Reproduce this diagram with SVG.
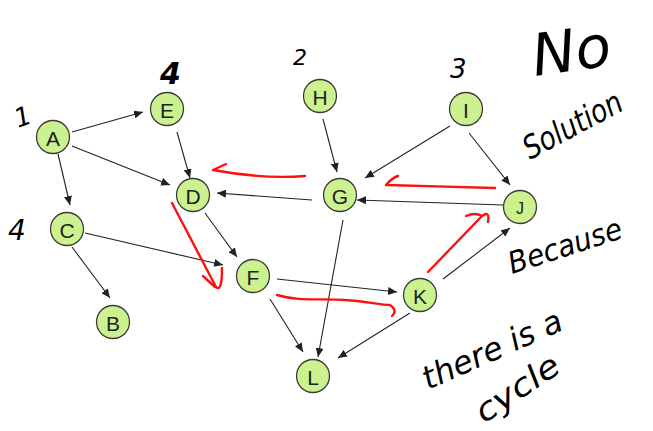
<svg xmlns="http://www.w3.org/2000/svg" width="653" height="431" viewBox="0 0 653 431">
  <style>
    .node circle { fill: #ccf28f; stroke: #3a3a3a; stroke-width: 1.3; }
    .node text { font-family: "Liberation Sans", Arial, sans-serif; font-size: 21px; fill: #222; text-anchor: middle; dominant-baseline: central; }
    .edge { stroke: #222; stroke-width: 1.1; fill: none; marker-end: url(#arrow); }
    .red { stroke: #ff1010; stroke-width: 2.4; fill: none; stroke-linecap: round; stroke-linejoin: round; }
    .hand { font-family: "DejaVu Sans", "Liberation Sans", sans-serif; fill: #000; font-style: italic; }
  </style>
  <defs>
    <marker id="arrow" markerUnits="userSpaceOnUse" markerWidth="10" markerHeight="8" refX="9" refY="4" orient="auto">
      <path d="M0,0 L9,4 L0,8 Z" fill="#222"/>
    </marker>
  </defs>
  <rect width="653" height="431" fill="#fff"/>

  <!-- connectors -->
  <g id="connectors">
    <line class="edge" x1="72" y1="132" x2="143" y2="112"/>
    <line class="edge" x1="72" y1="146" x2="170" y2="185"/>
    <line class="edge" x1="58" y1="154" x2="70" y2="205"/>
    <line class="edge" x1="177" y1="132" x2="190" y2="178"/>
    <line class="edge" x1="323" y1="119" x2="337" y2="172"/>
    <line class="edge" x1="450" y1="126" x2="365" y2="178"/>
    <line class="edge" x1="312" y1="200" x2="217" y2="193"/>
    <line class="edge" x1="503" y1="205" x2="357" y2="200"/>
    <line class="edge" x1="469" y1="133" x2="510" y2="185"/>
    <line class="edge" x1="443" y1="279" x2="510" y2="228"/>
    <line class="edge" x1="205" y1="213" x2="237" y2="257"/>
    <line class="edge" x1="85" y1="233" x2="223" y2="265"/>
    <line class="edge" x1="72" y1="247" x2="110" y2="298"/>
    <line class="edge" x1="277" y1="279" x2="397" y2="292"/>
    <line class="edge" x1="270" y1="299" x2="303" y2="352"/>
    <line class="edge" x1="343" y1="220" x2="318" y2="357"/>
    <line class="edge" x1="410" y1="313" x2="338" y2="358"/>
  </g>

  <!-- hand-drawn cycle path in red -->
  <g id="cycle">
    <path class="red" d="M305,176 C280,178 245,176 213,170 L226,164"/>
    <path class="red" d="M495,188 C460,187 420,186 386,185 Q392,178 398,176"/>
    <path class="red" d="M172,203 L216,287 Q222,293 222,268"/>
    <path class="red" d="M203,276 L215,287"/>
    <path class="red" d="M277,295 C300,302 320,298 345,300 C365,301 380,305 390,305 Q398,310 392,316"/>
    <path class="red" d="M428,272 L482,216 Q490,210 488,222"/>
    <path class="red" d="M466,216 Q475,212 482,216"/>
  </g>

  <!-- nodes -->
  <g id="node-A" class="node"><circle cx="53" cy="137" r="16.5"/><text x="53" y="138">A</text></g>
  <g id="node-E" class="node"><circle cx="167" cy="109" r="16.5"/><text x="167" y="110">E</text></g>
  <g id="node-H" class="node"><circle cx="320" cy="96" r="16.5"/><text x="320" y="97">H</text></g>
  <g id="node-I" class="node"><circle cx="466" cy="109" r="16.5"/><text x="466" y="110">I</text></g>
  <g id="node-D" class="node"><circle cx="193" cy="195" r="16.5"/><text x="193" y="196">D</text></g>
  <g id="node-G" class="node"><circle cx="340" cy="195" r="16.5"/><text x="340" y="196">G</text></g>
  <g id="node-J" class="node"><circle cx="520" cy="207" r="16.5"/><text x="520" y="208" style="font-size:16px">J</text></g>
  <g id="node-C" class="node"><circle cx="67" cy="229" r="16.5"/><text x="67" y="230">C</text></g>
  <g id="node-F" class="node"><circle cx="253" cy="276" r="16.5"/><text x="253" y="277">F</text></g>
  <g id="node-K" class="node"><circle cx="420" cy="295" r="16.5"/><text x="420" y="296">K</text></g>
  <g id="node-B" class="node"><circle cx="113" cy="322" r="16.5"/><text x="113" y="323">B</text></g>
  <g id="node-L" class="node"><circle cx="313" cy="376" r="16.5"/><text x="313" y="377">L</text></g>

  <!-- handwritten notes -->
  <g id="notes">
    <text class="hand" x="18" y="128" font-size="26" transform="rotate(-20 18 128)">1</text>
    <text class="hand" x="160" y="84" font-size="30" font-weight="bold">4</text>
    <text class="hand" x="293" y="65" font-size="22">2</text>
    <text class="hand" x="450" y="78" font-size="26">3</text>
    <text class="hand" x="8" y="240" font-size="28">4</text>
    <text class="hand" x="535" y="76" font-size="58" transform="rotate(-8 535 76)">No</text>
    <text class="hand" x="530" y="160" font-size="32" textLength="108" lengthAdjust="spacingAndGlyphs" transform="rotate(-28 530 160)">Solution</text>
    <text class="hand" x="512" y="274" font-size="30" textLength="118" lengthAdjust="spacingAndGlyphs" transform="rotate(-18 512 274)">Because</text>
    <text class="hand" x="428" y="390" font-size="32" textLength="150" lengthAdjust="spacingAndGlyphs" transform="rotate(-24 428 390)">there is a</text>
    <text class="hand" x="484" y="424" font-size="32" textLength="95" lengthAdjust="spacingAndGlyphs" transform="rotate(-34 484 424)">cycle</text>
  </g>
</svg>
